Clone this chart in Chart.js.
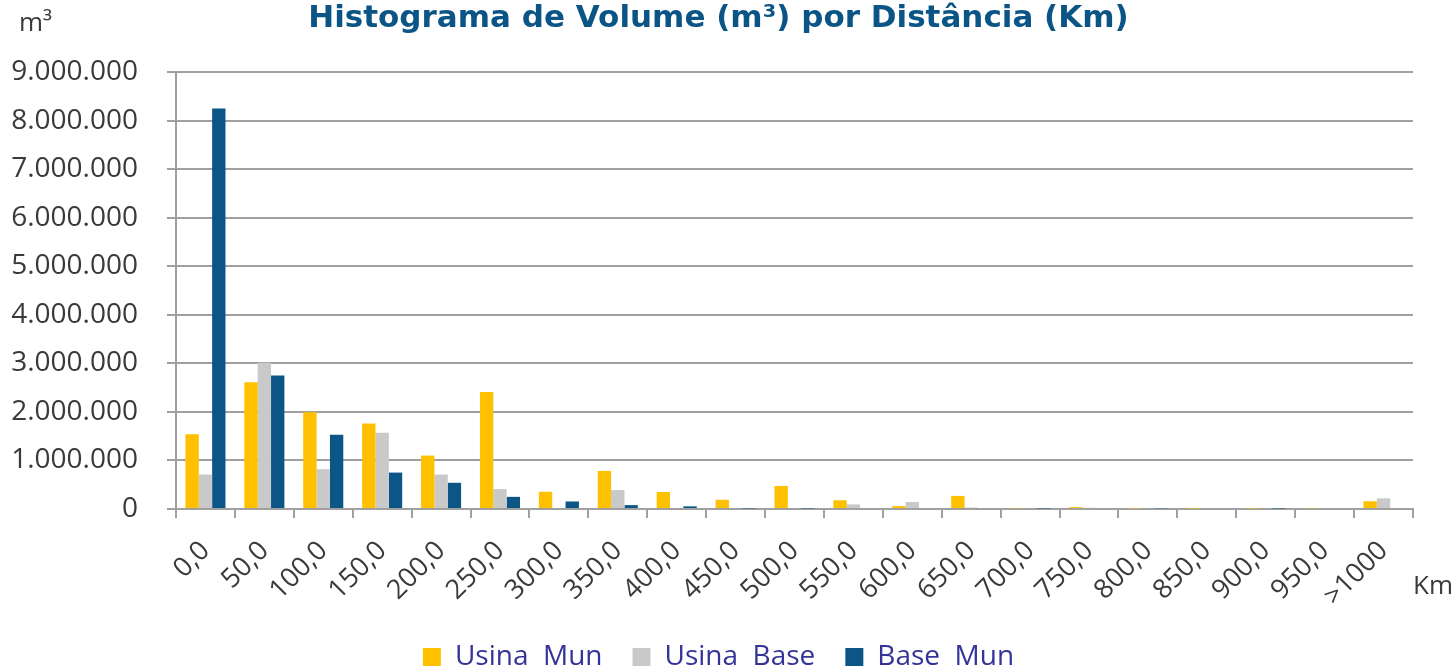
<!DOCTYPE html>
<html>
<head>
<meta charset="utf-8">
<script src="https://cdn.jsdelivr.net/npm/chart.js@4.4.0/dist/chart.umd.min.js"></script>
<style>
  html, body { margin: 0; padding: 0; background: #fff; }
  #box { width: 1455px; height: 671px; }
</style>
</head>
<body>
<div id="box"><canvas id="grafico" width="1455" height="671"></canvas></div>
<script>
const categorias = ['0,0', '50,0', '100,0', '150,0', '200,0', '250,0', '300,0', '350,0', '400,0', '450,0',
    '500,0', '550,0', '600,0', '650,0', '700,0', '750,0', '800,0', '850,0', '900,0', '950,0', '>1000'];

const usinaMun = [1540000, 2610000, 1990000, 1760000, 1100000, 2410000, 355000, 785000, 350000, 190000,
    475000, 180000, 60000, 270000, 15000, 40000, 12000, 12000, 12000, 15000, 160000];
const usinaBase = [710000, 3010000, 820000, 1570000, 710000, 410000, 0, 390000, 0, 20000,
    20000, 95000, 145000, 30000, 0, 25000, 0, 0, 0, 0, 220000];
const baseMun = [8250000, 2750000, 1530000, 750000, 540000, 250000, 155000, 80000, 55000, 12000,
    12000, 0, 0, 0, 12000, 0, 15000, 0, 12000, 0, 0];

const yMax = 9000000;
const yPasso = 1000000;

const fonte = 'Open Sans';
const corTexto = '#3a3a3a';
const corGrade = '#a0a0a0';

function formatarMilhar(v) {
    return String(v).replace(/\B(?=(\d{3})+(?!\d))/g, '.');
}

// textos soltos: unidade do eixo y e do eixo x
const textosEixos = {
    id: 'textosEixos',
    afterDraw(chart) {
        const ctx = chart.ctx;
        ctx.save();
        ctx.fillStyle = corTexto;
        ctx.font = '26px "' + fonte + '"';
        ctx.textBaseline = 'middle';
        ctx.textAlign = 'left';
        ctx.fillText('m³', 19, 24);
        ctx.fillText('Km', 1413, 587);
        ctx.restore();
    }
};

const ctx = document.getElementById('grafico').getContext('2d');
const grafico = new Chart(ctx, {
    type: 'bar',
    data: {
        labels: categorias,
        datasets: [
            { label: 'Usina  Mun', data: usinaMun, backgroundColor: '#FFC000', yAxisID: 'y' },
            { label: 'Usina  Base', data: usinaBase, backgroundColor: '#C9C9C9', yAxisID: 'y' },
            { label: 'Base  Mun', data: baseMun, backgroundColor: '#0B5686', yAxisID: 'y' }
        ]
    },
    options: {
        responsive: false,
        animation: false,
        layout: { padding: { left: 0, right: 18, top: 0, bottom: -10 } },
        datasets: {
            bar: { categoryPercentage: 0.68, barPercentage: 1.0 }
        },
        plugins: {
            title: {
                display: true,
                text: 'Histograma de Volume (m³) por Distância (Km)',
                color: '#0B5486',
                font: { family: 'DejaVu Sans', size: 31, weight: 'bold', lineHeight: 1 },
                padding: { top: 3, bottom: 38 }
            },
            legend: {
                position: 'bottom',
                labels: {
                    boxWidth: 18,
                    boxHeight: 18,
                    padding: 30,
                    color: '#333399',
                    font: { family: fonte, size: 28 }
                }
            },
            tooltip: { enabled: false }
        },
        scales: {
            x: {
                grid: {
                    offset: true,
                    drawOnChartArea: false,
                    drawTicks: true,
                    tickLength: 9,
                    color: corGrade,
                    lineWidth: 2
                },
                border: { color: corGrade, width: 2 },
                ticks: {
                    minRotation: 45,
                    maxRotation: 45,
                    padding: 17,
                    color: corTexto,
                    font: { family: fonte, size: 27 }
                },
                afterFit(scale) { scale.height = 104; }
            },
            y: {
                min: 0,
                max: yMax,
                grid: {
                    color: corGrade,
                    lineWidth: 2,
                    tickLength: 9
                },
                border: { color: corGrade, width: 2 },
                ticks: {
                    stepSize: yPasso,
                    padding: 29,
                    color: corTexto,
                    font: { family: fonte, size: 28 },
                    callback: (v) => formatarMilhar(v)
                },
                afterFit(scale) { scale.width = 176; }
            },
            // eixo vazio à direita, só para reservar espaço
            y2: {
                position: 'right',
                min: 0,
                max: yMax,
                grid: { display: false },
                border: { display: false },
                ticks: { display: false },
                afterFit(scale) { scale.width = 24; }
            }
        }
    },
    plugins: [textosEixos]
});
</script>
</body>
</html>
